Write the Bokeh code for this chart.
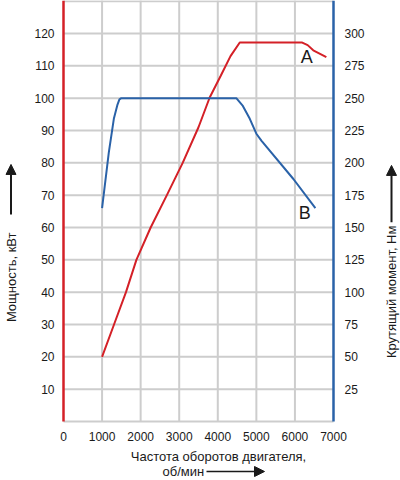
import numpy as np
from bokeh.plotting import figure
from bokeh.models import Range1d, LinearAxis, FixedTicker, Label, Arrow, NormalHead
from bokeh.embed import file_html
from bokeh.resources import INLINE

# ---- data ----
rpm_power = [1000, 1310, 1620, 1890, 2260, 2680, 3090, 3500, 3790, 4080, 4330, 4570, 6190, 6330, 6475, 6815]
power_kw = [20, 30, 40, 50, 60, 70, 80, 91, 100.2, 107, 113, 117.2, 117.2, 116.4, 114.8, 112.7]

rpm_torque = [1000, 1175, 1305, 1400, 1450, 1500, 4480, 4650, 4830, 5000, 5135, 5960, 6530]
torque_nm = [165, 208, 234, 245, 249, 250, 250, 244, 234, 222.5, 217, 187.5, 165]

x_ticks = [0, 1000, 2000, 3000, 4000, 5000, 6000, 7000]
power_ticks = [10, 20, 30, 40, 50, 60, 70, 80, 90, 100, 110, 120]
torque_ticks = [25, 50, 75, 100, 125, 150, 175, 200, 225, 250, 275, 300]
grid_power = power_ticks + [130]

# ---- layout (pixels of the 400x480 canvas) ----
W, H = 400, 480
L, R, B = 63, 67, 59          # plot box inset from canvas edges
FW, FH = W - L - R, H - B     # plot box size
X_MAX = 7000
Y_MAX = 130.2
TQ = 2.5

X0 = -L * X_MAX / FW
X1 = X_MAX + R * X_MAX / FW
Y0 = -B * Y_MAX / FH
Y1 = Y_MAX

RED = "#d42027"
BLUE = "#2a62a8"
GRID = "#cdcdcd"
TXT = "#1a1a1a"
FONT = "Liberation Sans"


def px(fx):
    return X0 + fx * (X1 - X0) / W


def py(fy):
    return Y1 - fy * (Y1 - Y0) / H


p = figure(width=W, height=H, output_backend="svg", toolbar_location=None,
           x_range=Range1d(X0, X1), y_range=Range1d(Y0, Y1),
           min_border_left=0, min_border_right=0, min_border_top=0, min_border_bottom=0,
           x_axis_location=None, y_axis_location=None)
p.outline_line_color = None
p.background_fill_color = "white"
p.border_fill_color = "white"
p.extra_y_ranges = {"tq": Range1d(Y0 * TQ, Y1 * TQ)}
p.xgrid.visible = False
p.ygrid.visible = False


def style_axis(ax, color, width, standoff):
    ax.axis_line_color = color
    ax.axis_line_width = width
    ax.major_tick_line_color = None
    ax.minor_tick_line_color = None
    ax.major_tick_out = 0
    ax.major_tick_in = 0
    ax.minor_tick_out = 0
    ax.minor_tick_in = 0
    ax.major_label_standoff = standoff
    ax.major_label_text_font_size = "12px"
    ax.major_label_text_color = TXT
    ax.major_label_text_font = FONT


# grid
p.segment(x0=x_ticks[1:-1], y0=0, x1=x_ticks[1:-1], y1=Y_MAX, line_color=GRID, line_width=2, level="underlay")
p.segment(x0=0, y0=grid_power, x1=X_MAX, y1=grid_power, line_color=GRID, line_width=2, level="underlay")

# axes at fixed locations
xa = LinearAxis(ticker=FixedTicker(ticks=x_ticks), fixed_location=0, bounds=(0, X_MAX))
style_axis(xa, GRID, 2, 10)
p.add_layout(xa, "below")

ya = LinearAxis(ticker=FixedTicker(ticks=power_ticks), fixed_location=0, bounds=(0, Y_MAX))
style_axis(ya, RED, 2.5, 9)
p.add_layout(ya, "left")

ra = LinearAxis(y_range_name="tq", ticker=FixedTicker(ticks=torque_ticks), fixed_location=X_MAX,
                bounds=(0, Y_MAX * TQ))
style_axis(ra, BLUE, 2.5, 11)
p.add_layout(ra, "right")

# curves
p.line(rpm_power, power_kw, line_color=RED, line_width=2)
p.line(rpm_torque, torque_nm, line_color=BLUE, line_width=2, y_range_name="tq")

# curve labels
p.add_layout(Label(x=6305, y=112.7, text="A", text_align="center", text_baseline="middle",
                   text_font_size="18px", text_color=TXT, text_font=FONT))
p.add_layout(Label(x=6253, y=64.6, text="B", text_align="center", text_baseline="middle",
                   text_font_size="18px", text_color=TXT, text_font=FONT))


def title(x, y, text, angle=0.0, align="center"):
    p.add_layout(Label(x=x, y=y, text=text, angle=angle,
                       text_align=align, text_baseline="middle",
                       text_font_size="13px", text_color=TXT, text_font=FONT))


def arrow(x0, y0, x1, y1, lw):
    p.add_layout(Arrow(end=NormalHead(size=10, fill_color=TXT, line_color=TXT, line_width=1),
                       x_start=x0, y_start=y0, x_end=x1, y_end=y1,
                       line_color=TXT, line_width=lw))


title(px(11), 44.6, "Мощность, кВт", angle=np.pi / 2)
arrow(px(10.5), 64.0, px(10.5), 79.5, 2)
title(px(391), 40.1, "Крутящий момент, Нм", angle=np.pi / 2)
arrow(px(391), 61.6, px(391), 79.2, 2)
title(px(218), py(456), "Частота оборотов двигателя,")
title(px(162), py(471), "об/мин", align="left")
arrow(px(206), py(471), px(264), py(471), 1.5)

open("out.html", "w").write(file_html(p, INLINE))
